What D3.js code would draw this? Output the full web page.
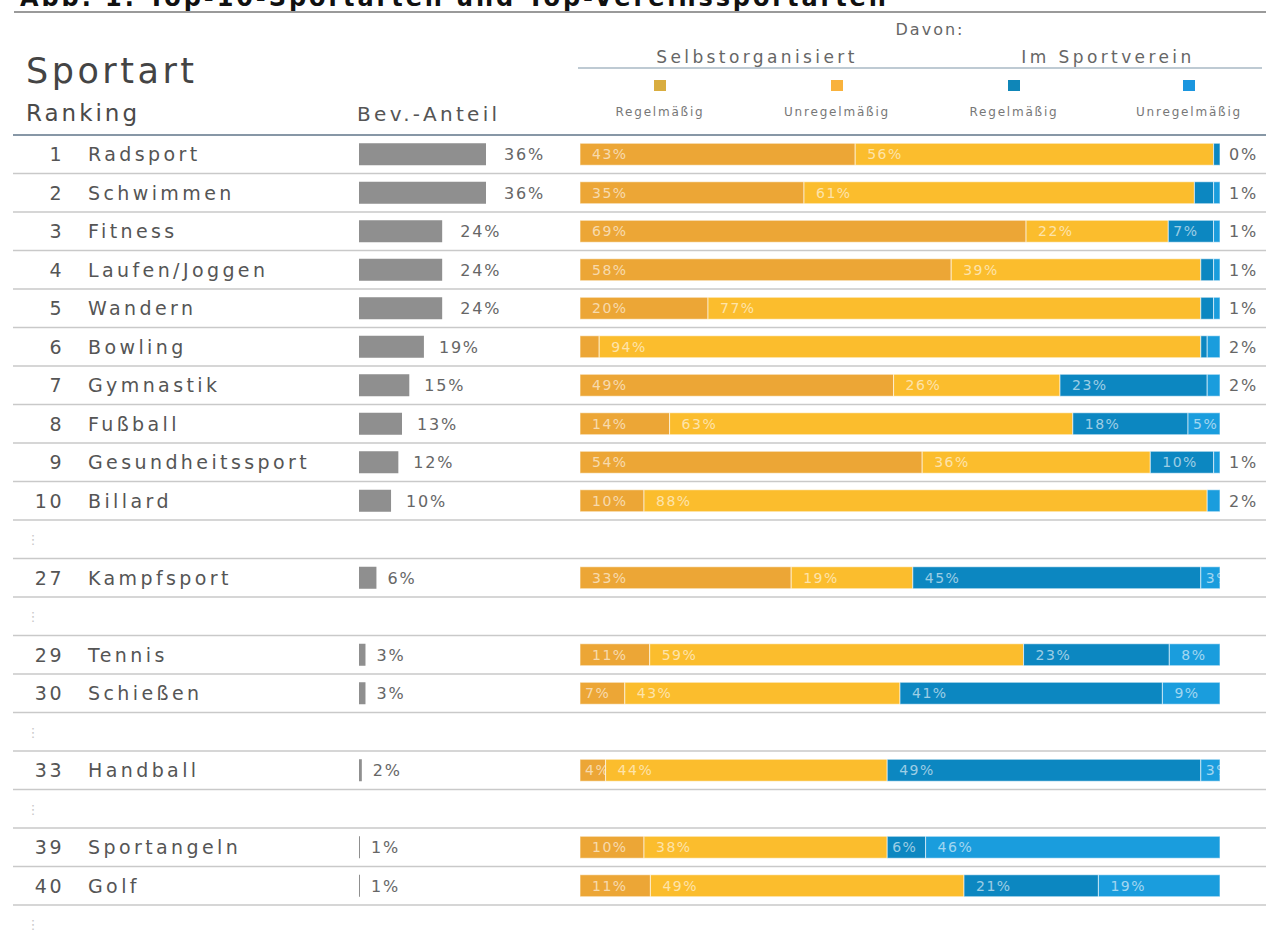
<!DOCTYPE html>
<html><head><meta charset="utf-8">
<script src="https://cdn.jsdelivr.net/npm/d3@7/dist/d3.min.js"></script>
<style>body{margin:0;background:#fff}svg{display:block}text{font-family:"DejaVu Sans",sans-serif}</style>
</head><body><svg id="c" width="1272" height="938"></svg>
<script>
const title = "Abb. 1: Top-10-Sportarten und Top-Vereinssportarten";
const ranks = ["1","2","3","4","5","6","7","8","9","10","27","29","30","33","39","40"];
const sports = ["Radsport","Schwimmen","Fitness","Laufen/Joggen","Wandern","Bowling","Gymnastik","Fußball","Gesundheitssport","Billard","Kampfsport","Tennis","Schießen","Handball","Sportangeln","Golf"];
const popShare = [36,36,24,24,24,19,15,13,12,10,6,3,3,2,1,1];
const selbstRegel   = [43,35,69,58,20,3,49,14,54,10,33,11,7,4,10,11];
const selbstUnregel = [56,61,22,39,77,94,26,63,36,88,19,59,43,44,38,49];
const vereinRegel   = [1,3,7,2,2,1,23,18,10,0,45,23,41,49,6,21];
const vereinUnregel = [0,1,1,1,1,2,2,5,1,2,3,8,9,3,46,19];
const gapAfter = ["10","27","30","33","40"];
const seriesNames = ["Regelmäßig","Unregelmäßig","Regelmäßig","Unregelmäßig"];
const groupNames = ["Selbstorganisiert","Im Sportverein"];
const barColors = ["#eca636","#fbbd2d","#0c87c1","#1a9ddd"];
const legendColors = ["#d9ad3f","#f9b23c","#0f86b8","#1b96df"];

const svg = d3.select("#c");
const series = [selbstRegel, selbstUnregel, vereinRegel, vereinUnregel];

// slots
const slots = [];
ranks.forEach((r,i)=>{ slots.push({type:"row", i}); if(gapAfter.includes(r)) slots.push({type:"gap"}); });
const y = d3.scaleBand().domain(d3.range(slots.length)).range([135, 135+38.5*slots.length]);
const xs = d3.scaleLinear().domain([0,1]).range([580,1220]);
const xp = d3.scaleLinear().domain([1.5,36]).range([1,127]).clamp(true);

// title
svg.append("text").attr("x",20).attr("y",6).attr("font-size",24).attr("font-weight","bold")
  .attr("letter-spacing",2.9).attr("fill","#111").text(title);
svg.append("line").attr("x1",14).attr("x2",1266).attr("y1",12).attr("y2",12).attr("stroke","#9a9a9a").attr("stroke-width",2);

// headers
svg.append("text").attr("x",26).attr("y",83).attr("font-size",35).attr("letter-spacing",3.5).attr("fill","#444").text("Sportart");
svg.append("text").attr("x",26).attr("y",121).attr("font-size",23).attr("letter-spacing",3).attr("fill","#4a4a4a").text("Ranking");
svg.append("text").attr("x",357).attr("y",121).attr("font-size",20).attr("letter-spacing",3.3).attr("fill","#555").text("Bev.-Anteil");
svg.append("text").attr("x",930).attr("y",35).attr("text-anchor","middle").attr("font-size",16).attr("letter-spacing",2).attr("fill","#666").text("Davon:");
[757,1108].forEach((cx,k)=>svg.append("text").attr("x",cx).attr("y",63).attr("text-anchor","middle")
  .attr("font-size",17).attr("letter-spacing",3.4).attr("fill","#666").text(groupNames[k]));
svg.append("line").attr("x1",578).attr("x2",1262).attr("y1",68).attr("y2",68).attr("stroke","#a9b8c4").attr("stroke-width",1.5);
const legX = [660,837,1014,1189];
seriesNames.forEach((n,k)=>{
  svg.append("rect").attr("x",legX[k]-6).attr("y",80).attr("width",12).attr("height",11).attr("fill",legendColors[k]);
  svg.append("text").attr("x",legX[k]).attr("y",116).attr("text-anchor","middle").attr("font-size",12)
    .attr("letter-spacing",1.8).attr("fill","#777").text(n);
});

// row separators
d3.range(slots.length+1).forEach(k=>{
  const yy = 135 + k*38.5;
  svg.append("line").attr("x1",13).attr("x2",1266).attr("y1",yy).attr("y2",yy)
    .attr("stroke", k===0 ? "#8797a6" : "#c9c9c9").attr("stroke-width", k===0 ? 2 : 1.6);
});

slots.forEach((s,k)=>{
  const cy = y(k) + y.bandwidth()/2;
  if(s.type==="gap"){
    svg.append("text").attr("x",33).attr("y",cy+5).attr("text-anchor","middle").attr("font-size",13).attr("fill","#c8c8c8").text("⋮");
    return;
  }
  const i = s.i;
  const g = svg.append("g");
  g.append("text").attr("x",64).attr("y",cy+7).attr("text-anchor","end").attr("font-size",19).attr("letter-spacing",2.5).attr("fill","#555").text(ranks[i]);
  g.append("text").attr("x",88).attr("y",cy+7).attr("font-size",19).attr("letter-spacing",3.4).attr("fill","#555").text(sports[i]);
  // population bar
  const w = xp(popShare[i]);
  g.append("rect").attr("x",359).attr("y",cy-11).attr("width",w).attr("height",22).attr("fill","#8f8f8f");
  g.append("text").attr("x",359+w+(popShare[i]>=20?18:(popShare[i]>=10?15:11))).attr("y",cy+6).attr("font-size",16).attr("letter-spacing",1.8).attr("fill","#666").text(popShare[i]+"%");
  // stacked bar
  const vals = series.map(a=>a[i]);
  const tot = d3.sum(vals);
  let cum = 0;
  vals.forEach((v,j)=>{
    const x0 = xs(cum/tot), x1 = xs((cum+v)/tot);
    cum += v;
    if(v<=0) return;
    g.append("rect").attr("x",x0).attr("y",cy-11).attr("width",x1-x0).attr("height",22)
      .attr("fill",barColors[j]).attr("stroke","#fff").attr("stroke-opacity",0.6).attr("stroke-width",1);
    const outside = (j===3 && v<=2);
    if(!outside && (v>=4 || (j===3 && v>=3))){
      g.append("text").attr("x",x0+(v<8?5:12)).attr("y",cy+5).attr("font-size",14).attr("letter-spacing",1.5)
        .attr("fill","#fff").attr("fill-opacity",0.6).text(v+"%");
    }
  });
  if(vereinUnregel[i]<=2){
    g.append("text").attr("x",1229).attr("y",cy+6).attr("font-size",16).attr("letter-spacing",1.8).attr("fill","#666").text(vereinUnregel[i]+"%");
  }
});
</script></body></html>
